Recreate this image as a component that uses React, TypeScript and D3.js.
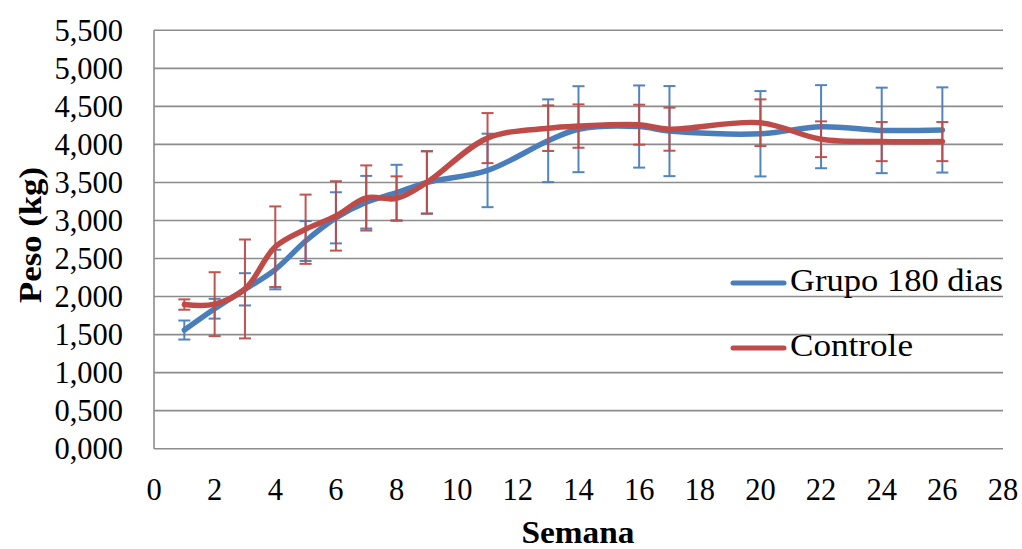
import React from "react";
import * as d3 from "d3";

const weeks = [1, 2, 3, 4, 5, 6, 7, 8, 9, 11, 13, 14, 16, 17, 20, 22, 24, 26];
const grupo180 = [1.56, 1.84, 2.095, 2.355, 2.73, 3.035, 3.24, 3.365, 3.5, 3.658, 4.048, 4.2, 4.235, 4.175, 4.14, 4.233, 4.184, 4.19];
const grupo180Err = [0.125, 0.13, 0.212, 0.26, 0.262, 0.336, 0.346, 0.367, 0.41, 0.483, 0.544, 0.565, 0.54, 0.592, 0.561, 0.546, 0.562, 0.56];
const controle = [1.895, 1.9, 2.1, 2.655, 2.885, 3.06, 3.296, 3.29, 3.5, 4.083, 4.213, 4.241, 4.259, 4.2, 4.285, 4.068, 4.037, 4.037];
const controleErr = [0.068, 0.42, 0.65, 0.53, 0.455, 0.456, 0.428, 0.29, 0.41, 0.329, 0.3, 0.285, 0.263, 0.283, 0.307, 0.235, 0.257, 0.257];
const xTicks = [0, 2, 4, 6, 8, 10, 12, 14, 16, 18, 20, 22, 24, 26, 28];
const yTicks = [0, 0.5, 1, 1.5, 2, 2.5, 3, 3.5, 4, 4.5, 5, 5.5];
const seriesNames = ["Grupo 180 dias", "Controle"];

const BLUE = "#4A7EBB";
const RED = "#BE4B48";
const GRID = "#8C8C8C";
const FONT = "'Liberation Serif', 'Times New Roman', serif";

export default function App() {
  const x = d3.scaleLinear().domain([0, 28]).range([154, 1003]);
  const y = d3.scaleLinear().domain([0, 5.5]).range([448.7, 30.3]);
  const line = d3
    .line<number>()
    .x((_, i) => x(weeks[i]))
    .y((d) => y(d))
    .curve(d3.curveCatmullRom.alpha(0.5));
  const fmt = (v: number) => d3.format(".3f")(v).replace(".", ",");

  const series = [
    { name: seriesNames[0], values: grupo180, err: grupo180Err, color: BLUE },
    { name: seriesNames[1], values: controle, err: controleErr, color: RED },
  ];

  return (
    <svg
      width={1022}
      height={549}
      style={{ position: "absolute", left: 0, top: 0, background: "#fff" }}
      fontFamily={FONT}
    >
      {/* grid */}
      {yTicks.map((t) => (
        <line key={"g" + t} x1={x(0)} x2={x(28)} y1={y(t)} y2={y(t)} stroke={GRID} strokeWidth={1.6} />
      ))}
      <line x1={x(0)} x2={x(0)} y1={y(0)} y2={y(5.5)} stroke={GRID} strokeWidth={1.6} />
      {/* y labels */}
      {yTicks.map((t) => (
        <text key={"yl" + t} x={123} y={y(t)} dy="0.34em" textAnchor="end" fontSize={30.5} fill="#000">
          {fmt(t)}
        </text>
      ))}
      {/* x labels */}
      {xTicks.map((t) => (
        <text key={"xl" + t} x={x(t)} y={500} textAnchor="middle" fontSize={30.5} fill="#000">
          {t}
        </text>
      ))}
      {/* series */}
      {series.map((s) => (
        <g key={s.name}>
          <path d={line(s.values) || ""} fill="none" stroke={s.color} strokeWidth={5.5} strokeLinecap="round" strokeLinejoin="round" />
          {s.values.map((v, i) => {
            const cx = x(weeks[i]);
            const top = y(v + s.err[i]);
            const bot = y(v - s.err[i]);
            return (
              <g key={i} stroke={s.color} strokeWidth={2} opacity={0.95}>
                <line x1={cx} x2={cx} y1={top} y2={bot} />
                <line x1={cx - 6} x2={cx + 6} y1={top} y2={top} />
                <line x1={cx - 6} x2={cx + 6} y1={bot} y2={bot} />
              </g>
            );
          })}
        </g>
      ))}
      {/* legend */}
      {series.map((s, i) => (
        <g key={"lg" + s.name}>
          <line x1={733} x2={784} y1={283 + i * 65} y2={283 + i * 65} stroke={s.color} strokeWidth={5} strokeLinecap="round" />
          <text x={790} y={291 + i * 65} fontSize={31} fill="#000" textLength={i === 0 ? 213 : 123} lengthAdjust="spacingAndGlyphs">
            {s.name}
          </text>
        </g>
      ))}
      {/* axis titles */}
      <text
        transform="translate(41,235) rotate(-90)"
        textAnchor="middle"
        fontSize={31}
        fontWeight="bold"
        fill="#000"
        textLength={136}
        lengthAdjust="spacingAndGlyphs"
      >
        Peso (kg)
      </text>
      <text x={578} y={543} textAnchor="middle" fontSize={31} fontWeight="bold" fill="#000" textLength={113} lengthAdjust="spacingAndGlyphs">
        Semana
      </text>
    </svg>
  );
}
